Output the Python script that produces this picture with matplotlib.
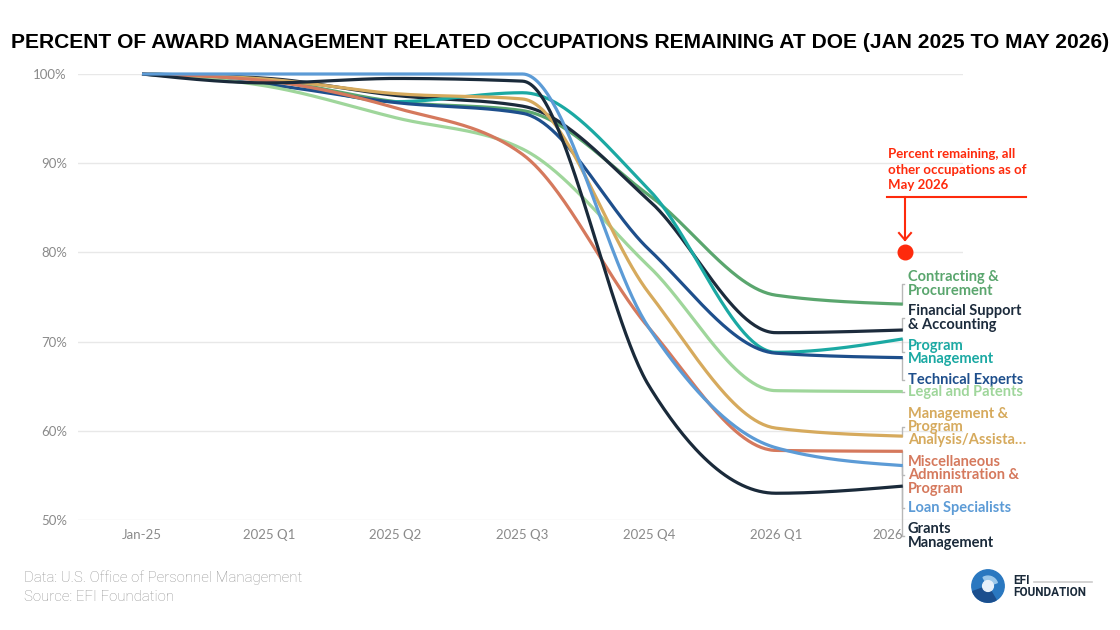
import numpy as np
import matplotlib
matplotlib.use("Agg")
import matplotlib.pyplot as plt
from matplotlib.patches import Circle, Wedge

# ---------------- data ----------------
x_labels = ["Jan-25", "2025 Q1", "2025 Q2", "2025 Q3", "2025 Q4", "2026 Q1", "2026"]
y_ticks = [50, 60, 70, 80, 90, 100]

contracting = [100, 99.3, 96.9, 95.9, 86.4, 75.2, 74.2]
financial   = [100, 99.5, 97.6, 96.4, 85.8, 71.0, 71.3]
program_mgmt = [100, 99.3, 96.9, 97.9, 87.0, 68.8, 70.3]
technical   = [100, 98.8, 96.8, 95.6, 80.3, 68.7, 68.2]
legal       = [100, 98.6, 95.1, 91.6, 78.4, 64.5, 64.4]
mgmt_analysis = [100, 99.4, 97.8, 97.2, 75.4, 60.3, 59.4]
misc_admin  = [100, 99.2, 96.2, 91.0, 71.5, 57.8, 57.7]
loan        = [100, 100, 100, 100, 71.5, 58.1, 56.1]
grants      = [100, 99.0, 99.5, 99.2, 65.0, 53.0, 53.8]

other_occupations_may_2026 = 80.0

series_names = [
    "Contracting &\nProcurement",
    "Financial Support\n& Accounting",
    "Program\nManagement",
    "Technical Experts",
    "Legal and Patents",
    "Management &\nProgram\nAnalysis/Assista\u2026",
    "Miscellaneous\nAdministration &\nProgram",
    "Grants\nManagement",
    "Loan Specialists",
]
series_values = [contracting, financial, program_mgmt, technical, legal,
                 mgmt_analysis, misc_admin, grants, loan]
series_colors = ["#5aa66e", "#1c2b3c", "#1ba9a3", "#1e4f8c", "#9fd69b",
                 "#d6aa5d", "#d5795d", "#1a2a3a", "#5c9bd6"]
# label centres (layout, in axis value units)
label_pos = [76.45, 72.65, 68.8, 65.75, 64.3, 60.45, 55.0, 48.2, 51.3]


def monotone_x(xs, ys, n=60):
    xs = np.asarray(xs, float)
    ys = np.asarray(ys, float)
    h = np.diff(xs)
    s = np.diff(ys) / h
    m = np.zeros_like(ys)
    sgn = lambda v: -1.0 if v < 0 else 1.0
    for i in range(1, len(xs) - 1):
        s0, s1, h0, h1 = s[i - 1], s[i], h[i - 1], h[i]
        p = (s0 * h1 + s1 * h0) / (h0 + h1)
        m[i] = (sgn(s0) + sgn(s1)) * min(abs(s0), abs(s1), 0.5 * abs(p))
    m[0] = (3 * s[0] - m[1]) / 2
    m[-1] = (3 * s[-1] - m[-2]) / 2
    X, Y = [], []
    for i in range(len(xs) - 1):
        t = np.linspace(0, 1, n, endpoint=(i == len(xs) - 2))
        hh = h[i]
        h00 = 2 * t**3 - 3 * t**2 + 1
        h10 = t**3 - 2 * t**2 + t
        h01 = -2 * t**3 + 3 * t**2
        h11 = t**3 - t**2
        X.append(xs[i] + t * hh)
        Y.append(h00 * ys[i] + h10 * hh * m[i] + h01 * ys[i + 1] + h11 * hh * m[i + 1])
    return np.concatenate(X), np.concatenate(Y)


W, H = 1120, 630
fig = plt.figure(figsize=(W / 100, H / 100), dpi=100)
fig.patch.set_facecolor("white")

ax = fig.add_axes([78 / W, 1 - 520 / H, (963 - 78) / W, (520 - 74) / H])
ax.set_xlim(-0.505, 6.475)
ax.set_ylim(50, 100)
for sp in ax.spines.values():
    sp.set_visible(False)
ax.set_yticks(y_ticks)
ax.set_yticklabels([f"{v}%" for v in y_ticks])
ax.set_xticks(range(len(x_labels)))
ax.set_xticklabels(x_labels)
ax.tick_params(length=0, labelsize=9.5, colors="#8a8a8a")
ax.tick_params(axis="y", pad=8)
ax.tick_params(axis="x", pad=6.5)
for lab in ax.get_xticklabels() + ax.get_yticklabels():
    lab.set_fontfamily("Lato")
ax.get_xticklabels()[-1].set_ha("right")
ax.grid(axis="y", color="#e8e8e8", lw=1)
ax.set_axisbelow(True)

xs = np.arange(len(x_labels))
for vals, col in zip(series_values, series_colors):
    X, Y = monotone_x(xs, vals)
    ax.plot(X, Y, color=col, lw=2.3, clip_on=False, solid_capstyle="butt", zorder=3)

# labels + connectors
x_end = xs[-1]
for name, vals, col, ly in zip(series_names, series_values, series_colors, label_pos):
    yv = vals[-1]
    ax.plot([x_end - 0.005, x_end - 0.005, x_end + 0.012], [yv, ly, ly],
            color="#b8b8b8", lw=1, clip_on=False, zorder=2)
    ax.text(x_end + 0.04, ly, name, color=col, fontsize=10.5, fontweight="bold",
            fontfamily="Lato", va="center", ha="left", linespacing=0.93,
            clip_on=False)

# other occupations marker and annotation
ax.plot([x_end + 0.015], [other_occupations_may_2026], "o", color="#fe2a0c",
        markersize=10.5, clip_on=False, zorder=5)

fig.text(888 / W, 1 - 148 / H, "Percent remaining, all\nother occupations as of\nMay 2026",
         color="#fe2a0c", fontsize=9.5, fontweight="bold", fontfamily="Lato",
         va="top", ha="left", linespacing=1.36)
fig.add_artist(plt.Line2D([887 / W, 1026 / W], [1 - 197 / H, 1 - 197 / H],
                          color="#fe2a0c", lw=1.5))
fig.add_artist(plt.Line2D([905 / W, 905 / W], [1 - 197 / H, 1 - 240 / H],
                          color="#fe2a0c", lw=1.5))
fig.add_artist(plt.Line2D([899 / W, 905 / W, 911 / W],
                          [1 - 233 / H, 1 - 240 / H, 1 - 233 / H],
                          color="#fe2a0c", lw=1.5))

# title
fig.text(560 / W, 1 - 43 / H,
         "PERCENT OF AWARD MANAGEMENT RELATED OCCUPATIONS REMAINING AT DOE (JAN 2025 TO MAY 2026)",
         fontsize=15.1, fontweight="bold", fontfamily="Liberation Sans",
         ha="center", va="center", color="#000000")

# footer
fig.text(24 / W, 1 - 578 / H, "Data: U.S. Office of Personnel Management",
         fontsize=10.8, color="#939393", fontfamily="Roboto", fontweight="light",
         va="center", ha="left")
fig.text(24 / W, 1 - 597 / H, "Source: EFI Foundation",
         fontsize=10.8, color="#939393", fontfamily="Roboto", fontweight="light",
         va="center", ha="left")

# logo
lax = fig.add_axes([970 / W, 1 - 604 / H, 36 / W, 36 / H])
lax.set_xlim(-1, 1)
lax.set_ylim(-1, 1)
lax.set_aspect("equal")
lax.axis("off")
lax.add_patch(Circle((0, 0), 0.9, color="#2a78c0"))
lax.add_patch(Wedge((0, 0), 0.9, 200, 300, color="#1b4f8e"))
lax.add_patch(Wedge((0, 0), 0.55, 20, 120, color="#9cc8ea"))
lax.add_patch(Circle((0, 0), 0.3, color="#e8f1fa"))
fig.text(1013 / W, 1 - 580 / H, "EFI", fontsize=8.5, fontweight="bold",
         fontfamily="Roboto", color="#1a2a3a", va="center", ha="left")
fig.add_artist(plt.Line2D([1034 / W, 1092 / W], [1 - 582 / H, 1 - 582 / H],
                          color="#cccccc", lw=1.2))
fig.text(1013 / W, 1 - 593 / H, "FOUNDATION", fontsize=8.5, fontweight="bold",
         fontfamily="Roboto", color="#1a2a3a", va="center", ha="left")

fig.savefig("out.png", dpi=100)
